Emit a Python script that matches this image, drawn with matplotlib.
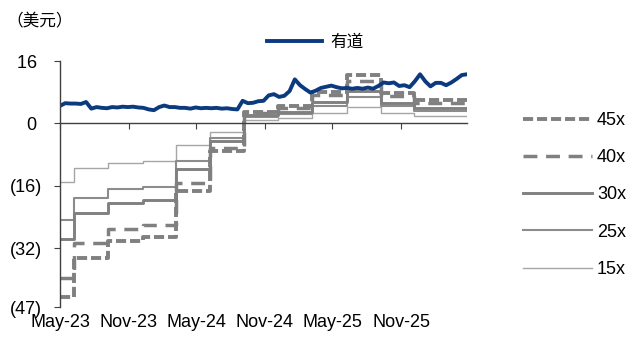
import numpy as np
import pandas as pd
from matplotlib import pyplot as plt
import matplotlib.dates as mdates

plt.rcParams['font.family'] = ['Liberation Sans', 'Noto Sans CJK SC', 'DejaVu Sans']

# stock price (USD), every 14 days from May-23
price_dates = pd.date_range('2023-05-01', periods=79, freq='14D')
price = [4.5, 5.2, 5.1, 5.1, 5.0, 5.5, 3.8, 4.2, 4.0, 3.9,
         4.2, 4.1, 4.3, 4.2, 4.3, 4.1, 4.0, 3.6, 3.4, 4.2,
         4.6, 4.2, 4.2, 4.0, 4.0, 3.8, 4.1, 3.9, 4.0, 3.9,
         4.0, 3.8, 3.9, 3.7, 3.6, 5.8, 5.2, 5.3, 5.7, 5.8,
         7.2, 7.5, 6.8, 7.1, 8.3, 11.3, 9.8, 8.8, 7.9, 8.4,
         9.1, 9.4, 9.7, 9.3, 9.0, 9.1, 8.9, 9.1, 8.9, 9.2,
         8.9, 9.6, 10.5, 10.3, 10.5, 9.6, 9.8, 9.3, 10.8, 12.6,
         10.8, 9.5, 10.4, 10.4, 9.8, 10.5, 11.4, 12.4, 12.6]

# valuation band steps (quarterly)
band_dates = pd.to_datetime(['2023-05-01', '2023-06-08', '2023-09-06', '2023-12-10',
                             '2024-03-08', '2024-06-07', '2024-09-07', '2024-12-07',
                             '2025-03-07', '2025-06-10', '2025-09-08', '2025-12-07',
                             '2026-04-27'])
band_15x = [-14.9, -11.5, -10.0, -9.6, -5.6, -2.2, 1.0, 1.5, 2.7, 4.2, 2.7, 2.0]
band_25x = [-24.8, -19.2, -16.9, -16.3, -9.5, -3.6, 1.7, 2.5, 4.5, 6.9, 4.4, 3.2]
band_30x = [-29.7, -22.8, -20.3, -19.6, -11.6, -4.4, 2.1, 3.0, 5.4, 8.2, 5.3, 3.9]
band_40x = [-39.5, -30.6, -26.9, -25.9, -15.3, -6.2, 2.7, 4.0, 7.2, 11.0, 7.0, 5.2]
band_45x = [-44.5, -34.4, -30.2, -29.2, -17.3, -7.0, 3.0, 4.5, 8.1, 12.4, 7.9, 5.9]

yticks = [16, 0, -16, -32, -47]
ytick_labels = ['16 ', '0 ', '(16)', '(32)', '(47)']
xtick_dates = pd.to_datetime(['2023-05-01', '2023-11-01', '2024-05-01',
                              '2024-11-01', '2025-05-01', '2025-11-01'])
xtick_labels = ['May-23', 'Nov-23', 'May-24', 'Nov-24', 'May-25', 'Nov-25']

fig = plt.figure(figsize=(6.32, 3.4), dpi=100)
ax = fig.add_axes([60/632, 1-307/340, 407/632, 246/340])

def steps(vals):
    return list(vals) + [vals[-1]]

l15, = ax.plot(band_dates, steps(band_15x), drawstyle='steps-post', color='#a6a6a6', lw=1.0)
l25, = ax.plot(band_dates, steps(band_25x), drawstyle='steps-post', color='#8c8c8c', lw=1.5)
l30, = ax.plot(band_dates, steps(band_30x), drawstyle='steps-post', color='#808080', lw=2.1)
l40, = ax.plot(band_dates, steps(band_40x), drawstyle='steps-post', color='#808080', lw=2.5,
               dashes=(4, 2.5))
l45, = ax.plot(band_dates, steps(band_45x), drawstyle='steps-post', color='#808080', lw=2.8,
               dashes=(2.6, 1.0))
lp, = ax.plot(price_dates, price, color='#0b3a7e', lw=2.8)

ax.set_xlim(pd.Timestamp('2023-05-01'), pd.Timestamp('2026-04-27'))
ax.set_ylim(-47, 16)

ax.spines['top'].set_visible(False)
ax.spines['right'].set_visible(False)
ax.spines['bottom'].set_position(('data', 0))
for s in ['left', 'bottom']:
    ax.spines[s].set_color('#404040')
    ax.spines[s].set_linewidth(1.0)

ax.set_yticks(yticks)
ax.set_yticklabels(ytick_labels)
ax.tick_params(axis='y', direction='out', length=4, pad=9, labelsize=13, color='#404040')
ax.set_xticks(xtick_dates)
ax.tick_params(axis='x', direction='out', length=4, labelbottom=False, color='#404040')

for d, lab in zip(xtick_dates, xtick_labels):
    ax.text(mdates.date2num(d), -0.03, lab, transform=ax.get_xaxis_transform(),
            ha='center', va='top', fontsize=13)

fig.text(6/632, 1-22/340, '（美元）', family=['Noto Sans CJK SC'], fontsize=12,
         ha='left', va='center')

fig.legend([lp], ['有道'], loc='center left', bbox_to_anchor=(267/632, 1-42/340),
           frameon=False, handlelength=3.3, handletextpad=0.5,
           borderpad=0, borderaxespad=0, prop={'family': ['Noto Sans CJK SC'], 'size': 12})

fig.legend([l45, l40, l30, l25, l15], ['45x', '40x', '30x', '25x', '15x'],
           loc='upper left', bbox_to_anchor=(523/632, 1-112/340),
           frameon=False, fontsize=13, handlelength=3.8, handletextpad=0.3,
           labelspacing=1.12, borderpad=0, borderaxespad=0)

fig.savefig('out.png', dpi=100)
